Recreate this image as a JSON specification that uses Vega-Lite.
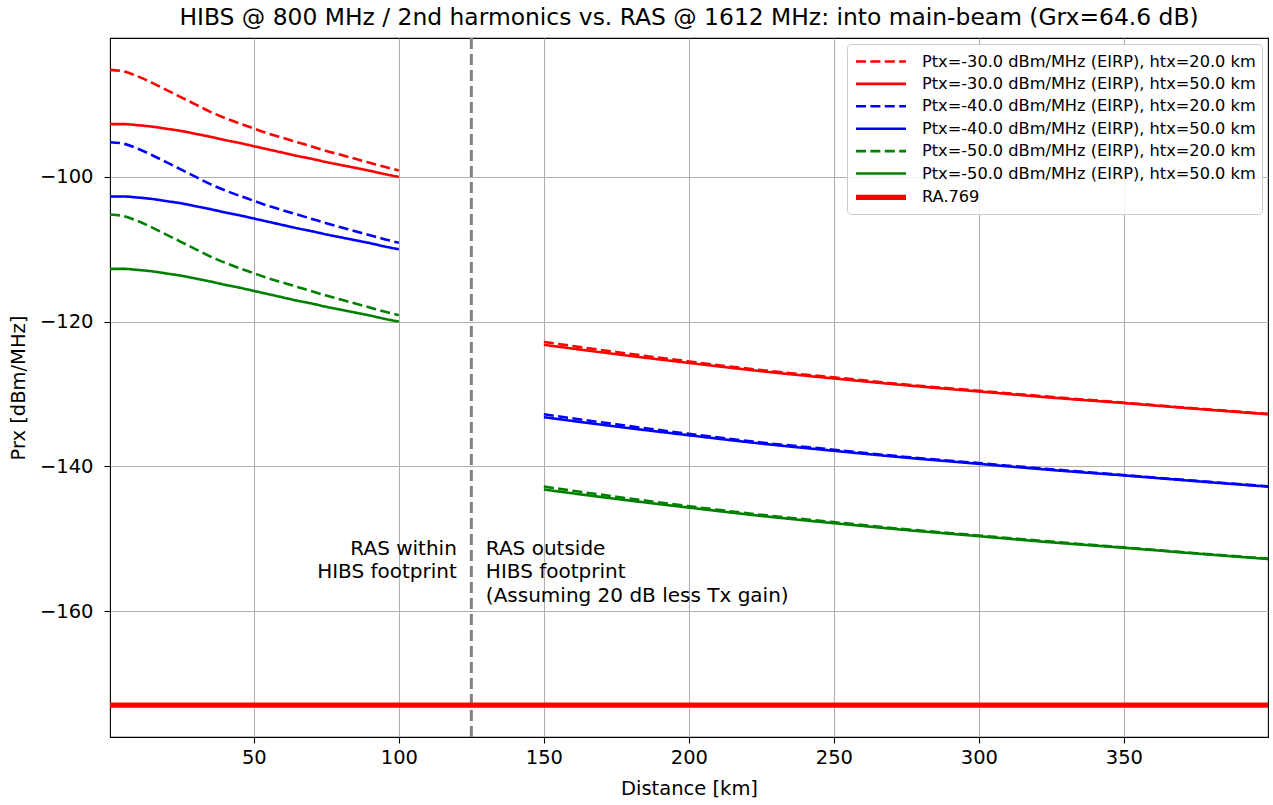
{
  "$schema": "https://vega.github.io/schema/vega-lite/v6.json",
  "width": 1158,
  "height": 699,
  "autosize": {"type": "none"},
  "padding": {"left": 110, "top": 38, "right": 5, "bottom": 68},
  "background": "white",
  "title": {"text": "HIBS @ 800 MHz / 2nd harmonics vs. RAS @ 1612 MHz: into main-beam (Grx=64.6 dB)", "font": "DejaVu Sans", "fontSize": 23.4, "fontWeight": "normal", "color": "black", "offset": 6, "anchor": "middle"},
  "config": {
    "view": {"stroke": "black", "strokeWidth": 1.1},
    "axis": {"domain": false, "grid": true, "gridColor": "#b0b0b0", "gridWidth": 1.1, "tickColor": "black", "tickSize": 6, "tickWidth": 1.1, "labelFont": "DejaVu Sans", "labelFontSize": 19.5, "labelColor": "black", "titleFont": "DejaVu Sans", "titleFontSize": 19.5, "titleFontWeight": "normal", "titleColor": "black"}
  },
  "datasets": {
    "curves": [
      {"k":"r20","g":"L","d":0.4,"p":-85.2},{"k":"r20","g":"L","d":5,"p":-85.4},{"k":"r20","g":"L","d":10,"p":-86.1},{"k":"r20","g":"L","d":15,"p":-87.0},{"k":"r20","g":"L","d":20,"p":-88.0},{"k":"r20","g":"L","d":25,"p":-89.0},{"k":"r20","g":"L","d":30,"p":-90.0},{"k":"r20","g":"L","d":35,"p":-91.0},{"k":"r20","g":"L","d":40,"p":-91.85},{"k":"r20","g":"L","d":45,"p":-92.6},{"k":"r20","g":"L","d":50,"p":-93.3},{"k":"r20","g":"L","d":55,"p":-94.0},{"k":"r20","g":"L","d":60,"p":-94.6},{"k":"r20","g":"L","d":65,"p":-95.2},{"k":"r20","g":"L","d":70,"p":-95.8},{"k":"r20","g":"L","d":75,"p":-96.4},{"k":"r20","g":"L","d":80,"p":-96.95},{"k":"r20","g":"L","d":85,"p":-97.5},{"k":"r20","g":"L","d":90,"p":-98.05},{"k":"r20","g":"L","d":95,"p":-98.6},{"k":"r20","g":"L","d":100,"p":-99.1},
      {"k":"r20","g":"R","d":150,"p":-122.8},{"k":"r20","g":"R","d":175,"p":-124.2},{"k":"r20","g":"R","d":200,"p":-125.5},{"k":"r20","g":"R","d":225,"p":-126.7},{"k":"r20","g":"R","d":250,"p":-127.7},{"k":"r20","g":"R","d":275,"p":-128.7},{"k":"r20","g":"R","d":300,"p":-129.55},{"k":"r20","g":"R","d":325,"p":-130.4},{"k":"r20","g":"R","d":350,"p":-131.2},{"k":"r20","g":"R","d":375,"p":-132.0},{"k":"r20","g":"R","d":399.7,"p":-132.75},
      {"k":"r50","g":"L","d":0.4,"p":-92.7},{"k":"r50","g":"L","d":5,"p":-92.7},{"k":"r50","g":"L","d":10,"p":-92.85},{"k":"r50","g":"L","d":15,"p":-93.05},{"k":"r50","g":"L","d":20,"p":-93.35},{"k":"r50","g":"L","d":25,"p":-93.65},{"k":"r50","g":"L","d":30,"p":-94.05},{"k":"r50","g":"L","d":35,"p":-94.45},{"k":"r50","g":"L","d":40,"p":-94.9},{"k":"r50","g":"L","d":45,"p":-95.3},{"k":"r50","g":"L","d":50,"p":-95.75},{"k":"r50","g":"L","d":55,"p":-96.2},{"k":"r50","g":"L","d":60,"p":-96.65},{"k":"r50","g":"L","d":65,"p":-97.1},{"k":"r50","g":"L","d":70,"p":-97.5},{"k":"r50","g":"L","d":75,"p":-97.95},{"k":"r50","g":"L","d":80,"p":-98.35},{"k":"r50","g":"L","d":85,"p":-98.75},{"k":"r50","g":"L","d":90,"p":-99.15},{"k":"r50","g":"L","d":95,"p":-99.6},{"k":"r50","g":"L","d":100,"p":-100.0},
      {"k":"r50","g":"R","d":150,"p":-123.2},{"k":"r50","g":"R","d":175,"p":-124.5},{"k":"r50","g":"R","d":200,"p":-125.7},{"k":"r50","g":"R","d":225,"p":-126.85},{"k":"r50","g":"R","d":250,"p":-127.85},{"k":"r50","g":"R","d":275,"p":-128.8},{"k":"r50","g":"R","d":300,"p":-129.65},{"k":"r50","g":"R","d":325,"p":-130.5},{"k":"r50","g":"R","d":350,"p":-131.25},{"k":"r50","g":"R","d":375,"p":-132.05},{"k":"r50","g":"R","d":399.7,"p":-132.8},
      {"k":"b20","g":"L","d":0.4,"p":-95.2},{"k":"b20","g":"L","d":5,"p":-95.4},{"k":"b20","g":"L","d":10,"p":-96.1},{"k":"b20","g":"L","d":15,"p":-97.0},{"k":"b20","g":"L","d":20,"p":-98.0},{"k":"b20","g":"L","d":25,"p":-99.0},{"k":"b20","g":"L","d":30,"p":-100.0},{"k":"b20","g":"L","d":35,"p":-101.0},{"k":"b20","g":"L","d":40,"p":-101.85},{"k":"b20","g":"L","d":45,"p":-102.6},{"k":"b20","g":"L","d":50,"p":-103.3},{"k":"b20","g":"L","d":55,"p":-104.0},{"k":"b20","g":"L","d":60,"p":-104.6},{"k":"b20","g":"L","d":65,"p":-105.2},{"k":"b20","g":"L","d":70,"p":-105.8},{"k":"b20","g":"L","d":75,"p":-106.4},{"k":"b20","g":"L","d":80,"p":-106.95},{"k":"b20","g":"L","d":85,"p":-107.5},{"k":"b20","g":"L","d":90,"p":-108.05},{"k":"b20","g":"L","d":95,"p":-108.6},{"k":"b20","g":"L","d":100,"p":-109.1},
      {"k":"b20","g":"R","d":150,"p":-132.8},{"k":"b20","g":"R","d":175,"p":-134.2},{"k":"b20","g":"R","d":200,"p":-135.5},{"k":"b20","g":"R","d":225,"p":-136.7},{"k":"b20","g":"R","d":250,"p":-137.7},{"k":"b20","g":"R","d":275,"p":-138.7},{"k":"b20","g":"R","d":300,"p":-139.55},{"k":"b20","g":"R","d":325,"p":-140.4},{"k":"b20","g":"R","d":350,"p":-141.2},{"k":"b20","g":"R","d":375,"p":-142.0},{"k":"b20","g":"R","d":399.7,"p":-142.75},
      {"k":"b50","g":"L","d":0.4,"p":-102.7},{"k":"b50","g":"L","d":5,"p":-102.7},{"k":"b50","g":"L","d":10,"p":-102.85},{"k":"b50","g":"L","d":15,"p":-103.05},{"k":"b50","g":"L","d":20,"p":-103.35},{"k":"b50","g":"L","d":25,"p":-103.65},{"k":"b50","g":"L","d":30,"p":-104.05},{"k":"b50","g":"L","d":35,"p":-104.45},{"k":"b50","g":"L","d":40,"p":-104.9},{"k":"b50","g":"L","d":45,"p":-105.3},{"k":"b50","g":"L","d":50,"p":-105.75},{"k":"b50","g":"L","d":55,"p":-106.2},{"k":"b50","g":"L","d":60,"p":-106.65},{"k":"b50","g":"L","d":65,"p":-107.1},{"k":"b50","g":"L","d":70,"p":-107.5},{"k":"b50","g":"L","d":75,"p":-107.95},{"k":"b50","g":"L","d":80,"p":-108.35},{"k":"b50","g":"L","d":85,"p":-108.75},{"k":"b50","g":"L","d":90,"p":-109.15},{"k":"b50","g":"L","d":95,"p":-109.6},{"k":"b50","g":"L","d":100,"p":-110.0},
      {"k":"b50","g":"R","d":150,"p":-133.2},{"k":"b50","g":"R","d":175,"p":-134.5},{"k":"b50","g":"R","d":200,"p":-135.7},{"k":"b50","g":"R","d":225,"p":-136.85},{"k":"b50","g":"R","d":250,"p":-137.85},{"k":"b50","g":"R","d":275,"p":-138.8},{"k":"b50","g":"R","d":300,"p":-139.65},{"k":"b50","g":"R","d":325,"p":-140.5},{"k":"b50","g":"R","d":350,"p":-141.25},{"k":"b50","g":"R","d":375,"p":-142.05},{"k":"b50","g":"R","d":399.7,"p":-142.8},
      {"k":"g20","g":"L","d":0.4,"p":-105.2},{"k":"g20","g":"L","d":5,"p":-105.4},{"k":"g20","g":"L","d":10,"p":-106.1},{"k":"g20","g":"L","d":15,"p":-107.0},{"k":"g20","g":"L","d":20,"p":-108.0},{"k":"g20","g":"L","d":25,"p":-109.0},{"k":"g20","g":"L","d":30,"p":-110.0},{"k":"g20","g":"L","d":35,"p":-111.0},{"k":"g20","g":"L","d":40,"p":-111.85},{"k":"g20","g":"L","d":45,"p":-112.6},{"k":"g20","g":"L","d":50,"p":-113.3},{"k":"g20","g":"L","d":55,"p":-114.0},{"k":"g20","g":"L","d":60,"p":-114.6},{"k":"g20","g":"L","d":65,"p":-115.2},{"k":"g20","g":"L","d":70,"p":-115.8},{"k":"g20","g":"L","d":75,"p":-116.4},{"k":"g20","g":"L","d":80,"p":-116.95},{"k":"g20","g":"L","d":85,"p":-117.5},{"k":"g20","g":"L","d":90,"p":-118.05},{"k":"g20","g":"L","d":95,"p":-118.6},{"k":"g20","g":"L","d":100,"p":-119.1},
      {"k":"g20","g":"R","d":150,"p":-142.8},{"k":"g20","g":"R","d":175,"p":-144.2},{"k":"g20","g":"R","d":200,"p":-145.5},{"k":"g20","g":"R","d":225,"p":-146.7},{"k":"g20","g":"R","d":250,"p":-147.7},{"k":"g20","g":"R","d":275,"p":-148.7},{"k":"g20","g":"R","d":300,"p":-149.55},{"k":"g20","g":"R","d":325,"p":-150.4},{"k":"g20","g":"R","d":350,"p":-151.2},{"k":"g20","g":"R","d":375,"p":-152.0},{"k":"g20","g":"R","d":399.7,"p":-152.75},
      {"k":"g50","g":"L","d":0.4,"p":-112.7},{"k":"g50","g":"L","d":5,"p":-112.7},{"k":"g50","g":"L","d":10,"p":-112.85},{"k":"g50","g":"L","d":15,"p":-113.05},{"k":"g50","g":"L","d":20,"p":-113.35},{"k":"g50","g":"L","d":25,"p":-113.65},{"k":"g50","g":"L","d":30,"p":-114.05},{"k":"g50","g":"L","d":35,"p":-114.45},{"k":"g50","g":"L","d":40,"p":-114.9},{"k":"g50","g":"L","d":45,"p":-115.3},{"k":"g50","g":"L","d":50,"p":-115.75},{"k":"g50","g":"L","d":55,"p":-116.2},{"k":"g50","g":"L","d":60,"p":-116.65},{"k":"g50","g":"L","d":65,"p":-117.1},{"k":"g50","g":"L","d":70,"p":-117.5},{"k":"g50","g":"L","d":75,"p":-117.95},{"k":"g50","g":"L","d":80,"p":-118.35},{"k":"g50","g":"L","d":85,"p":-118.75},{"k":"g50","g":"L","d":90,"p":-119.15},{"k":"g50","g":"L","d":95,"p":-119.6},{"k":"g50","g":"L","d":100,"p":-120.0},
      {"k":"g50","g":"R","d":150,"p":-143.2},{"k":"g50","g":"R","d":175,"p":-144.5},{"k":"g50","g":"R","d":200,"p":-145.7},{"k":"g50","g":"R","d":225,"p":-146.85},{"k":"g50","g":"R","d":250,"p":-147.85},{"k":"g50","g":"R","d":275,"p":-148.8},{"k":"g50","g":"R","d":300,"p":-149.65},{"k":"g50","g":"R","d":325,"p":-150.5},{"k":"g50","g":"R","d":350,"p":-151.25},{"k":"g50","g":"R","d":375,"p":-152.05},{"k":"g50","g":"R","d":399.7,"p":-152.8},
      {"k":"ra","g":"L","d":0.4,"p":-173.0},{"k":"ra","g":"L","d":399.7,"p":-173.0}
    ]
  },
  "layer": [
    {
      "data": {"values": [{"d": 125}]},
      "mark": {"type": "rule", "color": "#808080", "strokeWidth": 3, "strokeDash": [11, 5]},
      "encoding": {"x": {"field": "d", "type": "quantitative"}}
    },
    {
      "data": {"name": "curves"},
      "mark": {"type": "line", "interpolate": "monotone", "clip": true},
      "encoding": {
        "x": {"field": "d", "type": "quantitative", "scale": {"domain": [0.4, 399.7], "nice": false, "zero": false}, "axis": {"values": [50, 100, 150, 200, 250, 300, 350], "title": "Distance [km]", "labelPadding": 5, "titlePadding": 13}},
        "y": {"field": "p", "type": "quantitative", "scale": {"domain": [-177.4, -80.8], "nice": false, "zero": false}, "axis": {"values": [-160, -140, -120, -100], "title": "Prx [dBm/MHz]", "labelPadding": 11, "titlePadding": 11}},
        "color": {"field": "k", "type": "ordinal", "scale": {"domain": ["r20", "r50", "b20", "b50", "g20", "g50", "ra"], "range": ["#ff0000", "#ff0000", "#0000ff", "#0000ff", "#008000", "#008000", "#ff0000"]},
          "legend": {"title": null, "orient": "top-right", "offset": 6, "padding": 6, "fillColor": "rgba(255,255,255,0.85)", "strokeColor": "#cccccc", "cornerRadius": 4, "labelFont": "DejaVu Sans", "labelFontSize": 16.2, "labelColor": "black", "labelLimit": 600, "symbolType": "M-1,0H4", "symbolSize": 400, "rowPadding": 2.4, "labelOffset": 43,
            "labelExpr": "datum.label == 'r20' ? 'Ptx=-30.0 dBm/MHz (EIRP), htx=20.0 km' : datum.label == 'r50' ? 'Ptx=-30.0 dBm/MHz (EIRP), htx=50.0 km' : datum.label == 'b20' ? 'Ptx=-40.0 dBm/MHz (EIRP), htx=20.0 km' : datum.label == 'b50' ? 'Ptx=-40.0 dBm/MHz (EIRP), htx=50.0 km' : datum.label == 'g20' ? 'Ptx=-50.0 dBm/MHz (EIRP), htx=20.0 km' : datum.label == 'g50' ? 'Ptx=-50.0 dBm/MHz (EIRP), htx=50.0 km' : 'RA.769'"}},
        "strokeDash": {"field": "k", "type": "ordinal", "scale": {"domain": ["r20", "r50", "b20", "b50", "g20", "g50", "ra"], "range": [[10, 4.4], [1, 0], [10, 4.4], [1, 0], [10, 4.4], [1, 0], [1, 0]]}},
        "strokeWidth": {"field": "k", "type": "ordinal", "scale": {"type": "ordinal", "domain": ["r20", "r50", "b20", "b50", "g20", "g50", "ra"], "range": [2.6, 2.6, 2.6, 2.6, 2.6, 2.6, 5.3]}},
        "detail": {"field": "g"}
      }
    },
    {
      "data": {"values": [{"d": 120, "p": -150, "t": "RAS within\nHIBS footprint"}]},
      "mark": {"type": "text", "align": "right", "baseline": "top", "lineBreak": "\n", "font": "DejaVu Sans", "fontSize": 20, "lineHeight": 23.4, "color": "black"},
      "encoding": {"x": {"field": "d", "type": "quantitative"}, "y": {"field": "p", "type": "quantitative"}, "text": {"field": "t"}}
    },
    {
      "data": {"values": [{"d": 130, "p": -150, "t": "RAS outside\nHIBS footprint\n(Assuming 20 dB less Tx gain)"}]},
      "mark": {"type": "text", "align": "left", "baseline": "top", "lineBreak": "\n", "font": "DejaVu Sans", "fontSize": 20, "lineHeight": 23.4, "color": "black"},
      "encoding": {"x": {"field": "d", "type": "quantitative"}, "y": {"field": "p", "type": "quantitative"}, "text": {"field": "t"}}
    }
  ]
}
